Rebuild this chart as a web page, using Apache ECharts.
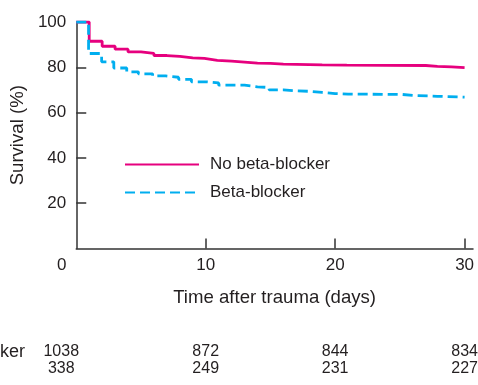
<!DOCTYPE html>
<html>
<head>
<meta charset="utf-8">
<script src="https://cdn.jsdelivr.net/npm/echarts@6/dist/echarts.min.js"></script>
<style>html,body{margin:0;padding:0;background:#fff;}#c{width:478px;height:385px;}</style>
</head>
<body>
<div id="c"></div>
<script>
// Kaplan-Meier step data (day, survival %)
const noBetaDays = [0, 1, 2, 3, 4, 5, 6, 7, 8, 9, 9.9, 10.9, 12, 13, 14, 15, 16, 17, 18, 19, 20.9, 27, 27.9, 29, 30];
const noBetaSurv = [100, 91.5, 89.3, 88.0, 86.8, 86.1, 85.2, 84.8, 84.2, 83.9, 83.1, 82.7, 82.3, 81.8, 81.7, 81.4, 81.3, 81.2, 81.1, 81.0, 80.8, 80.4, 80.2, 79.9, 79.9];
const betaDays = [0, 0.95, 1.96, 2.9, 3.9, 4.8, 5.9, 6.9, 7.9, 8.9, 10, 11, 13, 14, 14.9, 16, 17, 18, 19, 20, 21, 25.2, 26.3, 27.9, 30];
const betaSurv = [100, 86.1, 82.4, 79.7, 78.0, 77.1, 76.2, 75.6, 74.7, 73.6, 73.1, 72.1, 71.4, 71.1, 70.0, 69.6, 69.4, 68.9, 68.4, 68.2, 68.0, 67.5, 67.2, 66.8, 66.8];
const xTicks = [0, 10, 20, 30];
const yTicks = [20, 40, 60, 80, 100];
const riskTimes = [0, 10, 20, 30];
const riskNoBeta = [1038, 872, 844, 834];
const riskBeta = [338, 249, 231, 227];
const seriesNames = ['No beta-blocker', 'Beta-blocker'];

const FONT = '"Liberation Sans", Arial, Helvetica, sans-serif';
const TXT = '#231f20';
const PINK = '#e6007e';
const BLUE = '#00aeef';

const chart = echarts.init(document.getElementById('c'), null, {renderer: 'canvas'});
const zip = (a, b) => a.map((v, i) => [v, b[i]]);

chart.setOption({
  animation: false,
  backgroundColor: '#fff',
  textStyle: {fontFamily: FONT, color: TXT},
  grid: {left: 75, right: 5, top: 22, bottom: 136.5, containLabel: false},
  xAxis: {
    type: 'value', min: 0, max: 30.65, interval: 10,
    name: 'Time after trauma (days)', nameLocation: 'middle', nameGap: 40,
    nameTextStyle: {fontSize: 18.6, color: TXT, fontFamily: FONT},
    axisLine: {show: true, onZero: false, lineStyle: {color: '#333', width: 1.5}},
    axisTick: {show: true, inside: true, length: 10, customValues: [10, 20, 30], lineStyle: {color: '#333', width: 1.5}},
    axisLabel: {
      customValues: xTicks, fontSize: 17, color: TXT, fontFamily: FONT, margin: 8,
      formatter: v => v === 0 ? '{z|0}' : String(v),
      rich: {z: {fontSize: 17, color: TXT, fontFamily: FONT, padding: [0, 29, 0, 0]}}
    },
    splitLine: {show: false}
  },
  yAxis: {
    type: 'value', min: 0, max: 100, interval: 20,
    name: 'Survival (%)', nameLocation: 'middle', nameGap: 48, nameRotate: 90,
    nameTextStyle: {fontSize: 18.6, color: TXT, fontFamily: FONT},
    axisLine: {show: true, onZero: false, lineStyle: {color: '#333', width: 1.5}},
    axisTick: {show: true, inside: true, length: 10, customValues: [20, 40, 60, 80], lineStyle: {color: '#333', width: 1.5}},
    axisLabel: {customValues: yTicks, fontSize: 17, color: TXT, fontFamily: FONT, margin: 10},
    splitLine: {show: false}
  },
  legend: {
    data: seriesNames, orient: 'vertical', left: 119, top: 149,
    itemWidth: 74, itemHeight: 14, itemGap: 7,
    itemStyle: {opacity: 0},
    textStyle: {fontSize: 17, color: TXT, fontFamily: FONT, lineHeight: 21, padding: [0, 0, 0, 6]}
  },
  series: [
    {
      name: seriesNames[0], type: 'line', step: 'end', showSymbol: false, symbol: 'none',
      data: zip(noBetaDays, noBetaSurv), z: 2,
      lineStyle: {color: PINK, width: 2.8}, itemStyle: {color: PINK}
    },
    {
      name: seriesNames[1], type: 'line', step: 'end', showSymbol: false, symbol: 'none',
      data: zip(betaDays, betaSurv), z: 3,
      lineStyle: {color: BLUE, width: 2.8, type: [10, 5]}, itemStyle: {color: BLUE}
    }
  ]
});

// Numbers at risk table
const g = [];
riskTimes.forEach((t, i) => {
  let x = chart.convertToPixel({gridIndex: 0}, [t, 0])[0];
  if (t === 0) x -= 15;
  g.push({type: 'text', x: x, y: 352, style: {text: String(riskNoBeta[i]), font: '16px ' + FONT, fill: TXT, textAlign: 'center', textVerticalAlign: 'middle'}});
  g.push({type: 'text', x: x, y: 369, style: {text: String(riskBeta[i]), font: '16px ' + FONT, fill: TXT, textAlign: 'center', textVerticalAlign: 'middle'}});
});
g.push({type: 'text', x: 25, y: 352, style: {text: seriesNames[0], font: '18px ' + FONT, fill: TXT, textAlign: 'right', textVerticalAlign: 'middle'}});
chart.setOption({graphic: g});
</script>
</body>
</html>
